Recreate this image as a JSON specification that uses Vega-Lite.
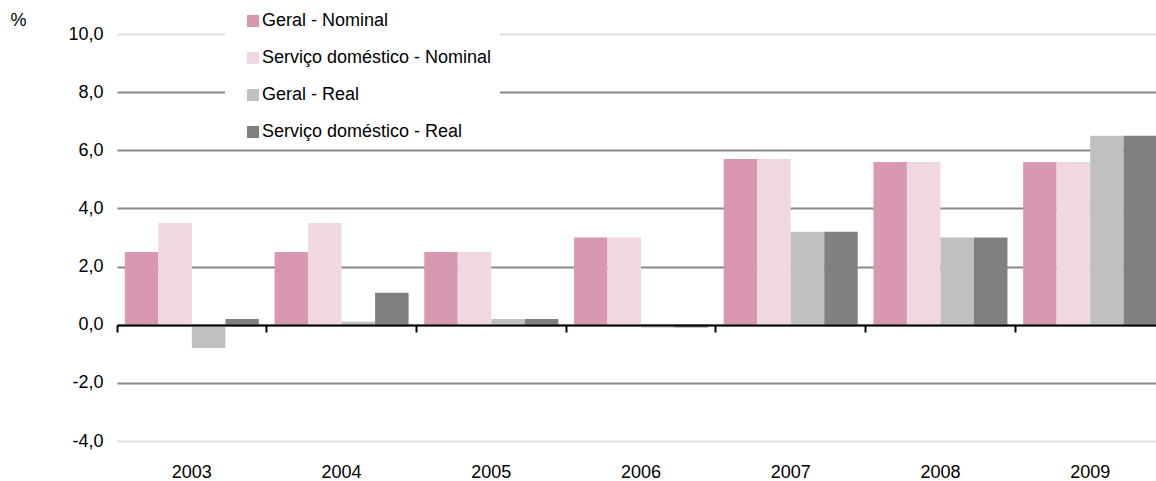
{
  "$schema": "https://vega.github.io/schema/vega-lite/v6.json",
  "width": 1039,
  "height": 407,
  "autosize": "none",
  "padding": {"left": 117, "top": 34, "right": 0, "bottom": 40},
  "background": "white",
  "config": {"view": {"stroke": null}, "font": "Liberation Sans"},
  "data": {"values": [
    {"year": "2003", "series": "Geral - Nominal", "value": 2.5},
    {"year": "2003", "series": "Serviço doméstico - Nominal", "value": 3.5},
    {"year": "2003", "series": "Geral - Real", "value": -0.8},
    {"year": "2003", "series": "Serviço doméstico - Real", "value": 0.2},
    {"year": "2004", "series": "Geral - Nominal", "value": 2.5},
    {"year": "2004", "series": "Serviço doméstico - Nominal", "value": 3.5},
    {"year": "2004", "series": "Geral - Real", "value": 0.1},
    {"year": "2004", "series": "Serviço doméstico - Real", "value": 1.1},
    {"year": "2005", "series": "Geral - Nominal", "value": 2.5},
    {"year": "2005", "series": "Serviço doméstico - Nominal", "value": 2.5},
    {"year": "2005", "series": "Geral - Real", "value": 0.2},
    {"year": "2005", "series": "Serviço doméstico - Real", "value": 0.2},
    {"year": "2006", "series": "Geral - Nominal", "value": 3.0},
    {"year": "2006", "series": "Serviço doméstico - Nominal", "value": 3.0},
    {"year": "2006", "series": "Geral - Real", "value": -0.1},
    {"year": "2006", "series": "Serviço doméstico - Real", "value": -0.1},
    {"year": "2007", "series": "Geral - Nominal", "value": 5.7},
    {"year": "2007", "series": "Serviço doméstico - Nominal", "value": 5.7},
    {"year": "2007", "series": "Geral - Real", "value": 3.2},
    {"year": "2007", "series": "Serviço doméstico - Real", "value": 3.2},
    {"year": "2008", "series": "Geral - Nominal", "value": 5.6},
    {"year": "2008", "series": "Serviço doméstico - Nominal", "value": 5.6},
    {"year": "2008", "series": "Geral - Real", "value": 3.0},
    {"year": "2008", "series": "Serviço doméstico - Real", "value": 3.0},
    {"year": "2009", "series": "Geral - Nominal", "value": 5.6},
    {"year": "2009", "series": "Serviço doméstico - Nominal", "value": 5.6},
    {"year": "2009", "series": "Geral - Real", "value": 6.5},
    {"year": "2009", "series": "Serviço doméstico - Real", "value": 6.5}
  ]},
  "mark": {"type": "bar"},
  "encoding": {
    "x": {
      "field": "year", "type": "nominal",
      "scale": {"range": [0, 1048], "paddingInner": 0, "paddingOuter": 0},
      "axis": {
        "title": null, "orient": "bottom", "offset": -116, "zindex": 1,
        "domain": true, "domainColor": "#000000", "domainWidth": 2,
        "ticks": true, "tickColor": "#000000", "tickWidth": 2, "tickSize": 7, "bandPosition": 0,
        "labelAngle": 0, "labelPadding": 131, "labelFontSize": 18, "labelColor": "#000000", "grid": false
      }
    },
    "xOffset": {
      "field": "series", "type": "nominal",
      "sort": ["Geral - Nominal", "Serviço doméstico - Nominal", "Geral - Real", "Serviço doméstico - Real"],
      "scale": {"paddingInner": 0, "paddingOuter": 0.234}
    },
    "y": {
      "field": "value", "type": "quantitative",
      "scale": {"domain": [-4, 10], "nice": false, "zero": false},
      "axis": {
        "values": [-4, -2, 0, 2, 4, 6, 8, 10],
        "grid": true, "gridWidth": 2,
        "gridColor": {"condition": {"test": "datum.value == 10 || datum.value == -4", "value": "#dddddd"}, "value": "#888888"},
        "domain": false, "ticks": false,
        "labelFontSize": 18, "labelColor": "#000000", "labelPadding": 14,
        "labelExpr": "replace(replace(format(datum.value, '.1f'), '.', ','), '\u2212', '-')",
        "title": "%", "titleAngle": 0, "titleX": -107, "titleY": -14,
        "titleAlign": "left", "titleBaseline": "middle", "titleFontWeight": "normal", "titleFontSize": 18, "titleColor": "#000000"
      }
    },
    "color": {
      "field": "series", "type": "nominal",
      "scale": {
        "domain": ["Geral - Nominal", "Serviço doméstico - Nominal", "Geral - Real", "Serviço doméstico - Real"],
        "range": ["#d898b2", "#f0d8e2", "#c0c0c0", "#808080"]
      },
      "legend": {
        "title": null, "orient": "none", "legendX": 108, "legendY": -30,
        "padding": 8, "fillColor": "#ffffff", "strokeColor": null,
        "symbolType": "square", "symbolSize": 144, "symbolStrokeWidth": 0, "symbolOffset": 11,
        "labelFontSize": 18, "labelColor": "#000000", "labelOffset": 0, "rowPadding": 19, "labelLimit": 400
      }
    }
  }
}
